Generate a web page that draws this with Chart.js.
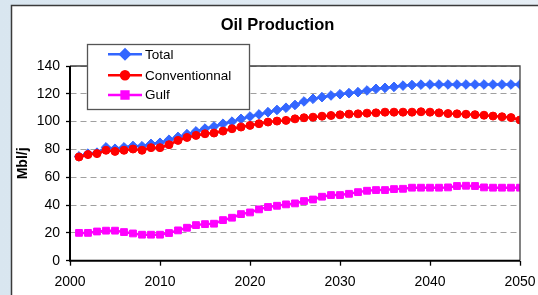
<!DOCTYPE html>
<html>
<head>
<meta charset="utf-8">
<script src="https://cdn.jsdelivr.net/npm/chart.js@4/dist/chart.umd.min.js"></script>
<style>
  html, body { margin: 0; padding: 0; background: #dfe9f1; }
  #wrap { width: 538px; height: 295px; position: relative; }
</style>
</head>
<body>
<div id="wrap"><canvas id="c" width="538" height="295"></canvas></div>
<script>
const chartTitle = "Oil Production";
const yAxisTitle = "Mbl/j";
const seriesNames = ["Total", "Conventionnal", "Gulf"];
const years = [2001,2002,2003,2004,2005,2006,2007,2008,2009,2010,
               2011,2012,2013,2014,2015,2016,2017,2018,2019,2020,
               2021,2022,2023,2024,2025,2026,2027,2028,2029,2030,
               2031,2032,2033,2034,2035,2036,2037,2038,2039,2040,
               2041,2042,2043,2044,2045,2046,2047,2048,2049,2050];
const total = [75,77,77.7,81.5,80.5,81.5,82.5,82.3,84,84.8,
               87,89,91,93,95,96.5,98.5,100,102,103.7,
               105.2,106.8,108.4,110,112,114.5,116.4,117.6,118.8,119.7,
               120.5,121.2,122.4,123.6,124.3,125,125.9,126.3,126.6,126.7,
               126.7,126.7,126.7,126.7,126.7,126.7,126.7,126.7,126.7,126.7];
const conventional = [74.6,76.3,77,79.4,78.6,79.4,80.3,79.4,81.3,81.3,
               83.4,86.5,88.6,90.1,91.3,91.8,93.2,94.9,96.1,97.3,
               98.5,99.7,100.4,100.9,102,102.8,103.2,103.9,104.4,104.9,
               105.4,105.6,106.1,106.3,106.8,106.8,106.8,106.8,107.1,106.8,
               106.3,105.8,105.6,105.3,105,104.6,104,103.5,102.9,101.2];
const gulf = [20,20,21,21.6,21.6,20.6,19.6,18.7,18.7,18.7,
               19.9,21.8,23.7,25.6,26.3,26.6,29.2,30.9,33.5,34.7,
               36.9,38.6,39.5,40.5,41.2,42.9,44,46,47.2,47.2,
               48.1,49.3,50.3,50.8,50.8,51.5,51.7,52.5,52.5,52.5,
               52.5,52.7,53.7,53.9,53.7,52.7,52.5,52.5,52.5,52.5];
const xTicks = [2000, 2010, 2020, 2030, 2040, 2050];
const yTicks = [0, 20, 40, 60, 80, 100, 120, 140];

const colors = ["#3366ff", "#ff0000", "#ff00ff"];
const styles = ["rectRot", "circle", "rect"];
const radii = [4.8, 4, 4.8];
const FONT = "'Liberation Sans', Arial, sans-serif";

const toXY = arr => arr.map((v, i) => ({x: years[i], y: v}));
const seriesData = [total, conventional, gulf];

const framePlugin = {
  id: 'frame',
  beforeDraw(chart) {
    const ctx = chart.ctx;
    ctx.save();
    const g = ctx.createLinearGradient(0, 0, 538, 0);
    g.addColorStop(0, '#d9e6f0');
    g.addColorStop(1, '#e6eef5');
    ctx.fillStyle = g;
    ctx.fillRect(0, 0, chart.width, chart.height);
    ctx.fillStyle = '#ffffff';
    ctx.fillRect(11, 5, 600, 400);
    ctx.strokeStyle = '#3a3a3a';
    ctx.lineWidth = 1.5;
    ctx.strokeRect(11.5, 5.5, 600, 400);
    ctx.restore();
  },
  afterDatasetsDraw(chart) {
    const ctx = chart.ctx;
    const a = chart.chartArea;
    ctx.save();
    ctx.strokeStyle = '#404040';
    ctx.lineWidth = 1.3;
    ctx.beginPath();
    ctx.moveTo(a.left, a.top);
    ctx.lineTo(a.right, a.top);
    ctx.lineTo(a.right, a.bottom);
    ctx.stroke();
    ctx.strokeStyle = '#000000';
    ctx.lineWidth = 2;
    ctx.beginPath();
    ctx.moveTo(a.left, a.top);
    ctx.lineTo(a.left, a.bottom);
    ctx.lineTo(a.right, a.bottom);
    ctx.stroke();
    ctx.restore();
  },
  afterDraw(chart) {
    const ctx = chart.ctx;
    ctx.save();
    ctx.fillStyle = '#000';
    ctx.font = "bold 16.5px " + FONT;
    ctx.textAlign = 'center';
    ctx.textBaseline = 'middle';
    ctx.fillText(chartTitle, 277.5, 25);
    const bx = 87, by = 44, bw = 162, bh = 65;
    ctx.fillStyle = '#ffffff';
    ctx.fillRect(bx, by, bw, bh);
    ctx.strokeStyle = '#555555';
    ctx.lineWidth = 1.3;
    ctx.strokeRect(bx + 0.5, by + 0.5, bw, bh);
    const rows = [54.3, 75.3, 95];
    chart.data.datasets.forEach((ds, i) => {
      const y = rows[i];
      ctx.strokeStyle = ds.borderColor;
      ctx.lineWidth = 2.5;
      ctx.beginPath();
      ctx.moveTo(108, y);
      ctx.lineTo(142, y);
      ctx.stroke();
      ctx.fillStyle = ds.backgroundColor;
      Chart.helpers.drawPoint(ctx, {pointStyle: ds.pointStyle, radius: ds.pointRadius, borderWidth: 1, rotation: 0}, 125, y);
      ctx.fill();
      ctx.fillStyle = '#000';
      ctx.font = "13.5px " + FONT;
      ctx.textAlign = 'left';
      ctx.textBaseline = 'middle';
      ctx.fillText(ds.label, 145, y + 0.5);
    });
    ctx.restore();
  }
};

new Chart(document.getElementById('c'), {
  type: 'line',
  data: {
    datasets: seriesNames.map((name, i) => ({
      label: name,
      data: toXY(seriesData[i]),
      borderColor: colors[i],
      backgroundColor: colors[i],
      pointBackgroundColor: colors[i],
      pointBorderColor: colors[i],
      pointStyle: styles[i],
      pointRadius: radii[i],
      pointBorderWidth: 1,
      borderWidth: 2.5,
      tension: 0,
      order: i === 1 ? 0 : (i === 0 ? 1 : 2)
    }))
  },
  options: {
    responsive: false,
    animation: false,
    events: [],
    layout: { padding: { left: 11, right: 18, top: 66, bottom: 0 } },
    plugins: { legend: { display: false }, title: { display: false }, tooltip: { enabled: false } },
    scales: {
      x: {
        type: 'linear',
        min: xTicks[0],
        max: xTicks[xTicks.length - 1],
        afterBuildTicks(scale) { scale.ticks = xTicks.map(v => ({value: v})); },
        afterFit(scale) { scale.height = 34.3; scale.paddingLeft = 0; scale.paddingRight = 0; },
        grid: { drawOnChartArea: false, drawTicks: true, tickLength: 5, tickColor: '#000', tickWidth: 1.3 },
        border: { display: false },
        ticks: { color: '#000', font: { family: FONT, size: 14 }, padding: 8, maxRotation: 0, autoSkip: false,
                 callback: v => String(v) }
      },
      y: {
        min: yTicks[0],
        max: yTicks[yTicks.length - 1],
        afterBuildTicks(scale) { scale.ticks = yTicks.map(v => ({value: v})); },
        afterFit(scale) { scale.width = 59; },
        grid: { color: '#a0a0a0', lineWidth: 1, tickLength: 4, tickColor: '#000', tickWidth: 1.3,
                borderDash: [6, 4], tickBorderDash: [0, 0], drawTicks: true },
        border: { display: true, color: '#000', width: 0.01, dash: [6, 4] },
        ticks: { color: '#000', font: { family: FONT, size: 14 }, padding: 6 },
        title: { display: true, text: yAxisTitle, color: '#000',
                 font: { family: FONT, size: 14, weight: 'bold' }, padding: { top: 4, bottom: 0 } }
      }
    }
  },
  plugins: [framePlugin]
});
</script>
</body>
</html>
